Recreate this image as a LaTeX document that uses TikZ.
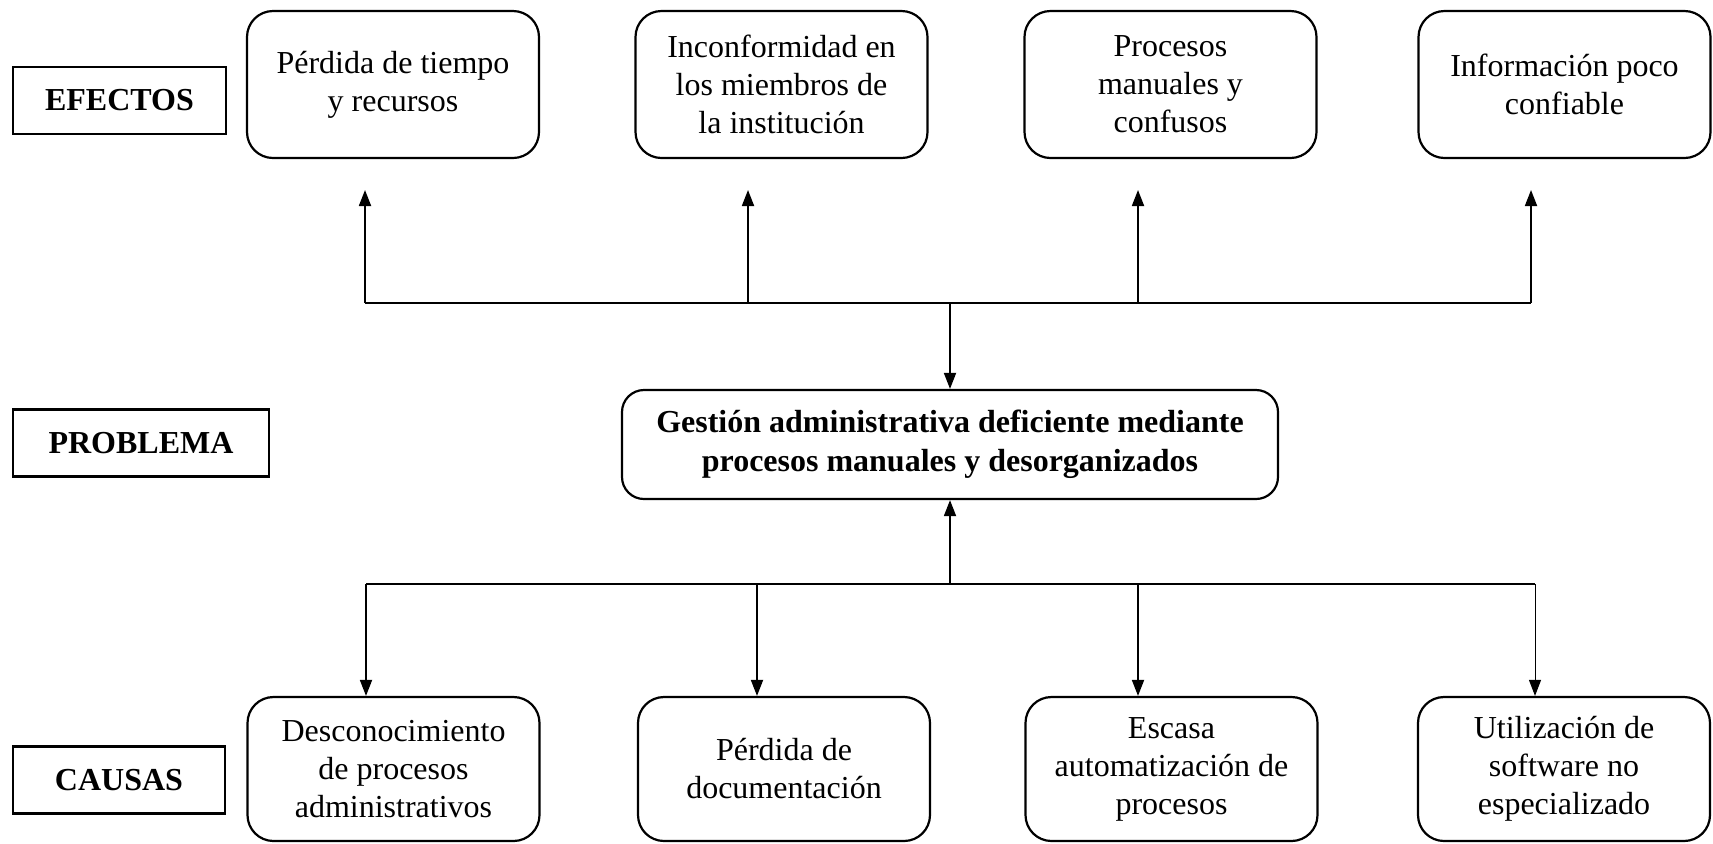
\documentclass[tikz,border=0pt]{standalone}
\usepackage{fontspec}
\setmainfont{Liberation Serif}
\usetikzlibrary{arrows.meta}
\begin{document}
\begin{tikzpicture}[x=0.5pt,y=-0.5pt,
  every node/.style={font=\fontsize{16}{19}\selectfont, align=center, inner sep=0pt},
  rbox/.style={draw, line width=1.1pt, rounded corners=13pt, minimum width=146pt, minimum height=72pt},
  lbox/.style={draw, line width=1.1pt, font=\fontsize{16}{19}\selectfont\bfseries, minimum height=33.5pt},
  pbox/.style={draw, line width=1.1pt, rounded corners=11pt, font=\fontsize{16}{19.5}\selectfont\bfseries, minimum width=328pt, minimum height=54.5pt},
  arr/.style={line width=0.9pt, -{Triangle[length=8pt,width=6pt]}},
  ln/.style={line width=0.9pt}]
\useasboundingbox (0,0) rectangle (1713,843);
% labels
\node[lbox, minimum width=106.5pt] (lef) at (119.5,100.5) {EFECTOS};
\node[lbox, minimum width=128pt] (lpr) at (141,443) {PROBLEMA};
\node[lbox, minimum width=106pt] (lca) at (119,780) {CAUSAS};
% effects
\node[rbox, minimum height=73.5pt] (e1) at (393,84.5) {Pérdida de tiempo\\y recursos};
\node[rbox, minimum height=73.5pt] (e2) at (781.5,84.5) {Inconformidad en\\los miembros de\\la institución};
\node[rbox, minimum height=73.5pt] (e3) at (1170.5,84.5) {Procesos\\manuales y\\confusos};
\node[rbox, minimum height=73.5pt] (e4) at (1564.5,84.5) {Información poco\\confiable};
% problem
\node[pbox] (p) at (950,444.5) {Gestión administrativa deficiente mediante\\procesos manuales y desorganizados};
% causes
\node[rbox] (c1) at (393.5,769) {Desconocimiento\\de procesos\\administrativos};
\node[rbox] (c2) at (784,769) {Pérdida de\\documentación};
\node[rbox] (c3) at (1171.5,769) {Escasa\\automatización de\\procesos};
\node[rbox] (c4) at (1564,769) {Utilización de\\software no\\especializado};
% top connectors
\coordinate (t1) at (365,303);
\coordinate (t2) at (748,303);
\coordinate (t3) at (1138,303);
\coordinate (t4) at (1531,303);
\coordinate (th) at (950,303);
\coordinate (a1) at (365,190);
\coordinate (a2) at (748,190);
\coordinate (a3) at (1138,190);
\coordinate (a4) at (1531,190);
\draw[ln] (t1) -- (t4);
\draw[arr] (t1) -- (a1);
\draw[arr] (t2) -- (a2);
\draw[arr] (t3) -- (a3);
\draw[arr] (t4) -- (a4);
\draw[arr] (th) -- (p.north);
% bottom connectors
\coordinate (b1) at (366,584);
\coordinate (b2) at (757,584);
\coordinate (b3) at (1138,584);
\coordinate (b4) at (1535,584);
\coordinate (bh) at (950,584);
\draw[ln] (b1) -- (b4);
\draw[arr] (bh) -- (p.south);
\draw[arr] (b1) -- (b1 |- c1.north);
\draw[arr] (b2) -- (b2 |- c2.north);
\draw[arr] (b3) -- (b3 |- c3.north);
\draw[arr, line width=0.5pt] (b4) -- (b4 |- c4.north);
\end{tikzpicture}
\end{document}
